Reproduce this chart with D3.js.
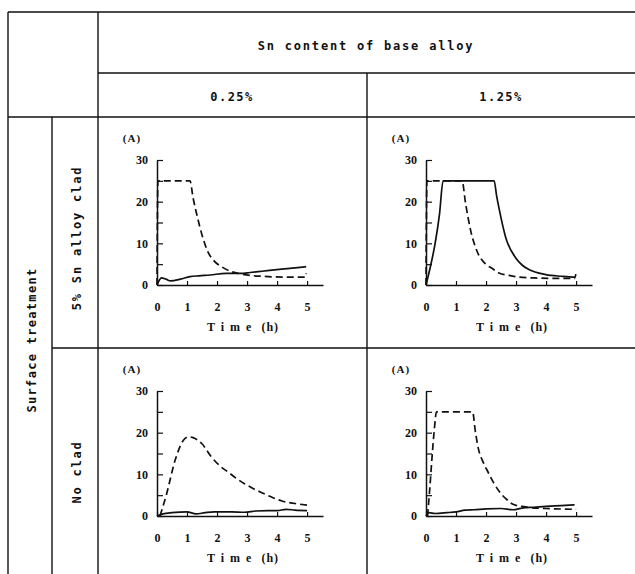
<!DOCTYPE html>
<html>
<head>
<meta charset="utf-8">
<script src="https://cdn.jsdelivr.net/npm/d3@7"></script>
<style>
    body { margin: 0; background: #fff; }
    svg { display: block; }
    .mono { font-family: 'DejaVu Sans Mono', monospace; font-size: 12px; font-weight: bold; fill: #111; }
    .num { font-family: 'Liberation Serif', serif; font-size: 12px; font-weight: bold; fill: #111; }
</style>
</head>
<body>
<svg width="635" height="574"></svg>
<script>
// *** data ***
const snContents = ['0.25%', '1.25%'];
const treatments = ['5% Sn alloy clad', 'No clad'];
const timeTicks = [0, 1, 2, 3, 4, 5];
const currentTicks = [0, 5, 10, 15, 20, 25, 30];

// [time (h), current (A)]
const lowCladDashed = [[0, 0], [0.03, 25], [1.1, 25], [1.2, 21], [1.37, 15.6], [1.5, 12], [1.7, 7.9],
    [1.9, 5.8], [2.17, 4.3], [2.45, 3.3], [2.7, 2.8], [3.1, 2.3], [3.5, 2.1], [4.2, 1.9], [4.95, 1.9], [4.97, 2.8]];
const lowCladSolid = [[0, 0], [0.15, 1.7], [0.3, 1.4], [0.45, 1.0], [0.78, 1.4], [1.1, 2.0], [1.4, 2.2],
    [1.77, 2.4], [2.3, 2.8], [2.8, 2.8], [3.1, 3.0], [3.5, 3.3], [4.15, 3.8], [4.6, 4.1], [4.97, 4.4]];

const highCladDashed = [[0, 0], [0.03, 25], [1.2, 25], [1.32, 19.5], [1.49, 13], [1.7, 8.1], [1.99, 5],
    [2.2, 4.0], [2.43, 2.9], [2.77, 2.3], [3.1, 1.9], [3.6, 1.7], [4.3, 1.6], [4.97, 1.6]];
const highCladSolid = [[0, 0], [0.14, 4.2], [0.3, 9.8], [0.45, 17], [0.57, 25], [2.27, 25], [2.35, 21.5],
    [2.43, 18.5], [2.66, 11.3], [2.99, 6.5], [3.2, 4.8], [3.43, 3.7], [3.99, 2.5], [4.5, 2.1], [4.97, 1.9], [4.99, 2.6]];

const lowBareDashed = [[0.1, 0], [0.32, 5.3], [0.6, 13.3], [0.88, 18.2], [1.05, 19], [1.2, 18.8], [1.49, 17.4],
    [1.82, 14.1], [2.1, 12], [2.38, 10.5], [2.65, 9], [2.93, 7.7], [3.2, 6.6], [3.49, 5.6], [3.8, 4.6],
    [4.16, 3.6], [4.6, 3.0], [5.0, 2.6]];
const lowBareSolid = [[0, 0], [0.2, 0.5], [0.5, 0.8], [1.0, 1.0], [1.3, 0.5], [1.6, 0.8], [1.9, 1.0],
    [2.5, 1.0], [2.9, 0.9], [3.3, 1.2], [3.7, 1.3], [4.0, 1.3], [4.3, 1.6], [4.6, 1.4], [5.0, 1.3]];

const highBareDashed = [[0.05, 0], [0.12, 6], [0.2, 14], [0.28, 21], [0.35, 25], [1.55, 25], [1.65, 20],
    [1.75, 16], [1.9, 13], [2.07, 10.5], [2.25, 8], [2.46, 5.7], [2.7, 3.9], [2.9, 2.8], [3.2, 2.3],
    [3.46, 2.0], [4.0, 1.8], [5.0, 1.6]];
const highBareSolid = [[0, 0], [0.1, 0.8], [0.3, 0.6], [0.7, 0.8], [1.0, 1.0], [1.3, 1.4], [1.6, 1.5],
    [2.0, 1.7], [2.5, 1.8], [2.9, 1.5], [3.2, 1.9], [3.6, 2.1], [4.0, 2.3], [4.5, 2.5], [4.95, 2.7]];

// panels[row][col]
const panels = [
    [{ dashed: lowCladDashed, solid: lowCladSolid }, { dashed: highCladDashed, solid: highCladSolid }],
    [{ dashed: lowBareDashed, solid: lowBareSolid }, { dashed: highBareDashed, solid: highBareSolid }],
];

// *** layout ***
const svg = d3.select('svg');
const colLeft = [98, 367];
const rowTop = [117, 348];
const ink = '#111';

// table grid
const grid = [
    [8, 12, 635, 12],
    [8, 12, 8, 574],
    [98, 12, 98, 574],
    [98, 73, 635, 73],
    [367, 73, 367, 574],
    [8, 117, 635, 117],
    [52, 117, 52, 574],
    [52, 348, 635, 348],
];
svg.append('g')
    .selectAll('line')
    .data(grid)
    .enter()
    .append('line')
    .attr('x1', d => d[0]).attr('y1', d => d[1])
    .attr('x2', d => d[2]).attr('y2', d => d[3])
    .attr('stroke', ink)
    .attr('stroke-width', 1.4);

// headers
svg.append('text')
    .attr('class', 'mono')
    .attr('x', 366).attr('y', 50)
    .attr('text-anchor', 'middle')
    .style('letter-spacing', '1.8px')
    .text('Sn content of base alloy');
snContents.forEach((s, i) => {
    svg.append('text')
        .attr('class', 'mono')
        .attr('x', colLeft[i] + 134).attr('y', 101)
        .attr('text-anchor', 'middle')
        .style('letter-spacing', '1.5px')
        .text(s);
});
svg.append('text')
    .attr('class', 'mono')
    .attr('transform', 'translate(36,340) rotate(-90)')
    .attr('text-anchor', 'middle')
    .style('letter-spacing', '1.3px')
    .text('Surface treatment');
const labelY = [238, 472];
treatments.forEach((t, i) => {
    svg.append('text')
        .attr('class', 'mono')
        .attr('transform', `translate(81,${labelY[i]}) rotate(-90)`)
        .attr('text-anchor', 'middle')
        .style('letter-spacing', '1.8px')
        .text(t);
});

// *** charts ***
const x = d3.scaleLinear().domain([0, 5.53]).range([0, 166]);
const y = d3.scaleLinear().domain([0, 30]).range([0, -125]);
const line = d3.line()
    .x(d => x(d[0]))
    .y(d => y(d[1]))
    .curve(d3.curveMonotoneX);

panels.forEach((row, r) => {
    row.forEach((p, c) => {
        const g = svg.append('g')
            .attr('transform', `translate(${colLeft[c] + 59},${rowTop[r] + 168})`);

        const xAxis = g.append('g')
            .call(d3.axisBottom(x)
                .tickValues(timeTicks)
                .tickFormat(d3.format('d'))
                .tickSizeInner(-4)
                .tickSizeOuter(0)
                .tickPadding(17));
        const yAxis = g.append('g')
            .call(d3.axisLeft(y)
                .tickValues(currentTicks)
                .tickFormat(d => d % 10 === 0 ? d : '')
                .tickSizeInner(-6)
                .tickSizeOuter(0)
                .tickPadding(9));
        [xAxis, yAxis].forEach(a => {
            a.select('.domain').attr('stroke', ink).attr('stroke-width', 1.5);
            a.selectAll('.tick line').attr('stroke', ink).attr('stroke-width', 1.2);
            a.selectAll('text').attr('class', 'num').attr('font-family', null).attr('font-size', null);
        });

        g.append('path')
            .datum(p.solid)
            .attr('d', line)
            .attr('fill', 'none')
            .attr('stroke', ink)
            .attr('stroke-width', 1.7);
        g.append('path')
            .datum(p.dashed)
            .attr('d', line)
            .attr('fill', 'none')
            .attr('stroke', ink)
            .attr('stroke-width', 1.7)
            .attr('stroke-dasharray', '7,4');

        g.append('text')
            .attr('class', 'num')
            .attr('x', -25).attr('y', -143)
            .attr('text-anchor', 'middle')
            .style('font-size', '11px')
            .style('letter-spacing', '1px')
            .text('(A)');
        const title = g.append('text')
            .attr('class', 'num')
            .attr('x', 86).attr('y', 46)
            .attr('text-anchor', 'middle');
        title.append('tspan').style('letter-spacing', '6px').text('Time');
        title.append('tspan').attr('dx', 4).style('letter-spacing', '1px').text('(h)');
    });
});
</script>
</body>
</html>
